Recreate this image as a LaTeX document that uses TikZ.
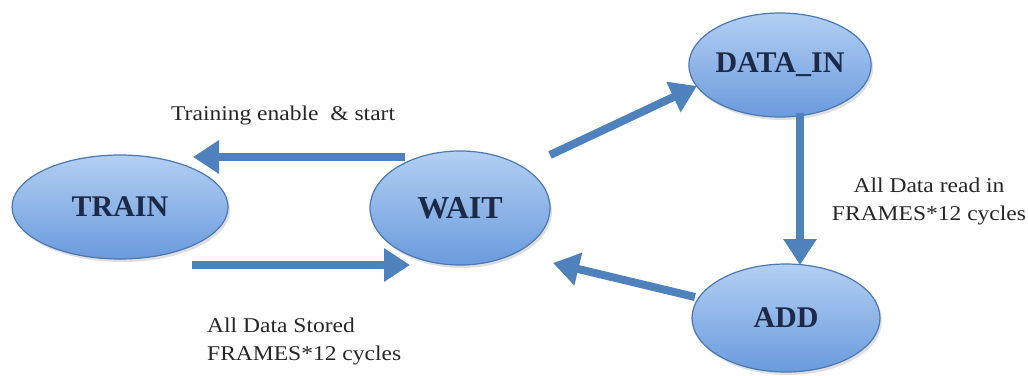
\documentclass[tikz,border=0pt]{standalone}
\usepackage{fontspec}
\setmainfont{Liberation Serif}
\newfontfamily\notefont{Liberation Serif}[FakeStretch=1.12]
\usetikzlibrary{shapes.geometric,arrows.meta,calc,shadows}

\definecolor{stateedge}{HTML}{4A78B2}
\definecolor{statetop}{HTML}{B3CFF3}
\definecolor{statebottom}{HTML}{6A9BDD}
\definecolor{arrowblue}{HTML}{4F81BD}
\definecolor{statetext}{HTML}{1C2A48}

\tikzset{
  state/.style={ellipse, draw=stateedge, line width=1.2pt, inner sep=0pt,
    top color=statetop, bottom color=statebottom,
    drop shadow={opacity=0.25, shadow xshift=2pt, shadow yshift=-3pt},
    font=\fontsize{30}{30}\selectfont\bfseries, text=statetext},
  flow/.style={draw=arrowblue, line width=8pt,
    -{Triangle[length=26pt,width=32pt]}},
  note/.style={font=\notefont\fontsize{21}{28}\selectfont, text=black!85}
}

\begin{document}
\begin{tikzpicture}[x=1pt,y=-1pt]
  \useasboundingbox (0,0) rectangle (1028,375);

  % states
  \node[state, minimum width=216pt, minimum height=104pt] (train) at (120,207) {TRAIN};
  \node[state, minimum width=180pt, minimum height=114pt] (wait) at (460,208) {\fontsize{32}{32}\selectfont WAIT};
  \node[state, minimum width=170pt, minimum height=104pt] (datain) at (780,65) {DATA\_IN};
  \node[state, minimum width=188pt, minimum height=108pt] (add) at (786,318) {ADD};

  % transitions
  \draw[flow] ($(wait.center)+(-55,-51)$) -- ($(train.center)+(73,-50)$);
  \draw[flow] ($(train.center)+(72,58)$) -- ($(wait.center)+(-50,57)$);
  \draw[flow] ($(wait.center)+(90,-53)$) -- ($(datain.center)+(-83,21)$);
  \draw[flow] ($(datain.center)+(20,48)$) -- ($(add.center)+(14,-53)$);
  \draw[flow] ($(add.center)+(-91,-21)$) -- ($(wait.center)+(93,55)$);

  % transition labels
  \node[note, anchor=west, inner sep=0pt] (lstart) at (171,115) {Training enable \ \& start};
  \node[note, align=left, anchor=north west, inner sep=0pt] (lstore) at (207,318) {All Data Stored\\FRAMES*12 cycles};
  \node[note, align=center, inner sep=0pt] (lread) at (929,201) {All Data read in\\FRAMES*12 cycles};
\end{tikzpicture}
\end{document}
